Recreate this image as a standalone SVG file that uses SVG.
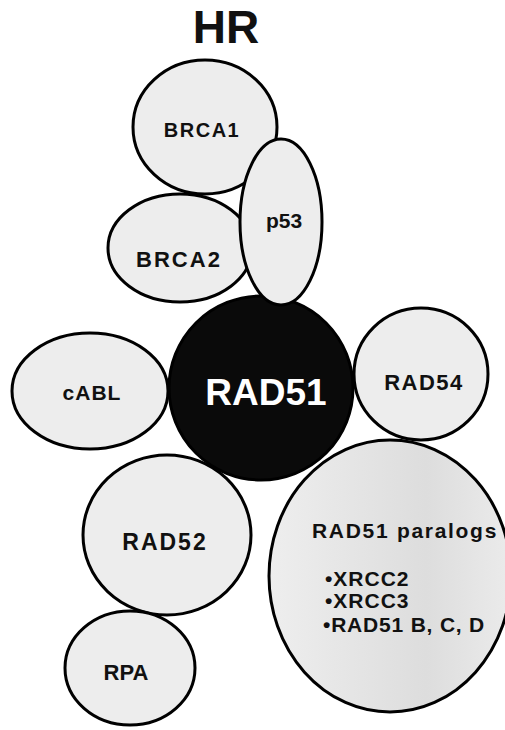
<svg xmlns="http://www.w3.org/2000/svg" width="505" height="730" viewBox="0 0 505 730">
<style>
.n{fill:#ededed;stroke:#000;stroke-width:3}
.core{fill:#0a0a0a;stroke:#000;stroke-width:3}
.t{font-family:"Liberation Sans",Arial,sans-serif;font-weight:bold;fill:#111;text-anchor:middle}
.l{font-family:"Liberation Sans",Arial,sans-serif;font-weight:bold;fill:#111}
</style>
<defs>
<linearGradient id="pg" x1="0" y1="0" x2="1" y2="0">
<stop offset="0" stop-color="#eeeeee"/>
<stop offset="0.65" stop-color="#dddddd"/>
<stop offset="1" stop-color="#ebebeb"/>
</linearGradient>
</defs>
<rect width="505" height="730" fill="#fff"/>
<text class="t" x="226" y="43" font-size="46">HR</text>
<g id="connectors"></g>
<g id="BRCA1"><ellipse class="n" cx="205" cy="127" rx="72" ry="67"/><text class="t" x="202" y="137" font-size="20" letter-spacing="1.5">BRCA1</text></g>
<g id="BRCA2"><ellipse class="n" cx="180" cy="248" rx="72" ry="54"/><text class="t" x="179" y="267" font-size="22" letter-spacing="2">BRCA2</text></g>
<g id="cABL"><ellipse class="n" cx="90" cy="391" rx="78" ry="58"/><text class="t" x="92" y="400" font-size="21" letter-spacing="1">cABL</text></g>
<g id="RAD54"><ellipse class="n" cx="421" cy="374" rx="67" ry="66"/><text class="t" x="424" y="390" font-size="22" letter-spacing="1.5">RAD54</text></g>
<g id="RAD52"><ellipse class="n" cx="167" cy="535" rx="84" ry="80"/><text class="t" x="165" y="550" font-size="23" letter-spacing="2">RAD52</text></g>
<g id="RPA"><ellipse class="n" cx="130" cy="668" rx="65" ry="57"/><text class="t" x="126" y="680" font-size="22">RPA</text></g>
<g id="RAD51"><circle class="core" cx="261" cy="388" r="92"/><text class="t" x="266" y="405" font-size="37" style="fill:#fff">RAD51</text></g>
<g id="p53"><ellipse class="n" cx="281" cy="222" rx="41" ry="83"/><text class="t" x="284" y="228" font-size="21">p53</text></g>
<g id="paralogs"><ellipse class="n" cx="390" cy="576" rx="121" ry="136" style="fill:url(#pg)"/>
<text class="l" x="312" y="538" font-size="21" letter-spacing="1.7">RAD51 paralogs</text>
<text class="l" x="325" y="586" font-size="21" letter-spacing="1">•XRCC2</text>
<text class="l" x="325" y="608" font-size="21" letter-spacing="1">•XRCC3</text>
<text class="l" x="323" y="632" font-size="21" letter-spacing="0.8">•RAD51 B, C, D</text>
</g>
</svg>
